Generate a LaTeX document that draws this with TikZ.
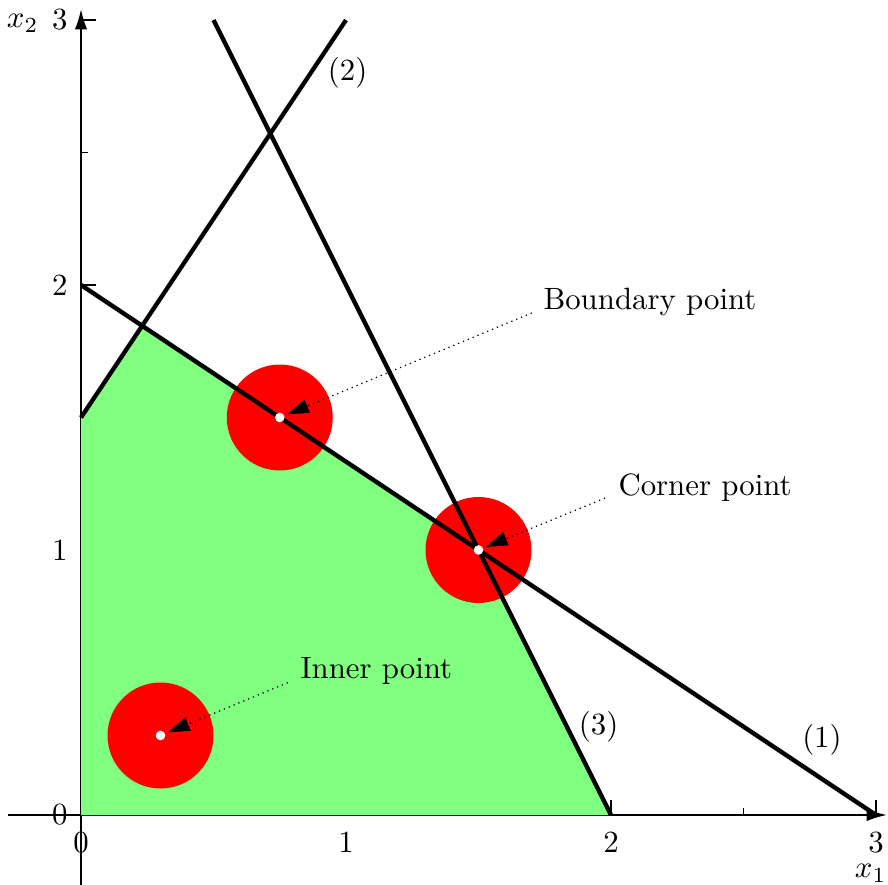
\documentclass[tikz,border=0pt]{standalone}
\usetikzlibrary{arrows.meta}
\begin{document}
\begin{tikzpicture}[x=86pt,y=86pt,
  axisline/.style={line width=0.4pt, -{Latex[length=6.5pt,width=4pt]}},
  tickline/.style={line width=0.4pt},
  constraint/.style={line width=1.4pt},
  region/.style={fill=green!50},
  zone/.style={circle, fill=red, minimum size=34.4pt, inner sep=0pt},
  dotpt/.style={circle, fill=white, minimum size=3.1pt, inner sep=0pt},
  pointer/.style={dash pattern=on 0.4pt off 1.3pt, line width=0.4pt, -{Triangle[length=7pt,width=4.6pt]}, shorten >=0.9pt},
  lbl/.style={anchor=base west, inner sep=0pt},
  ticklbl/.style={inner sep=0pt},
]
\useasboundingbox (-0.3057,-0.2604) rectangle (3.0453,3.0755);
% axes
\coordinate (xs) at (-0.2755,0);
\coordinate (xe) at (3.04,0);
\coordinate (ys) at (0,-0.27);
\coordinate (ye) at (0,3.04);
\draw[axisline] (xs) -- (xe);
\draw[axisline] (ys) -- (ye);
% ticks
\foreach \v in {0.5,1.5,2.5} {
  \draw[tickline] (\v,0) -- ++(0,2.4pt);
  \draw[tickline] (0,\v) -- ++(2.4pt,0);
}
\foreach \v in {1,2,3} {
  \draw[tickline] (\v,0) -- ++(0,4.9pt);
  \draw[tickline] (0,\v) -- ++(4.9pt,0);
}
% tick labels
\foreach \v in {0,1,2,3} {
  \node[ticklbl, anchor=north] (xl\v) at (\v,-0.06) {\v};
  \node[ticklbl, anchor=east] (yl\v) at (-0.049,\v) {\v};
}
\node[ticklbl, anchor=base east] (xlab) at (3.0415,-0.2377) {$x_1$};
\node[ticklbl, anchor=base east] (ylab) at (-0.1585,2.970) {$x_2$};
% feasible region
\coordinate (o) at (0,0);
\coordinate (a) at (2,0);
\coordinate (b) at (1.5,1);
\coordinate (c) at (0.23077,1.84615);
\coordinate (d) at (0,1.5);
\fill[region] (o) -- (a) -- (b) -- (c) -- (d) -- cycle;
% red zones
\node[zone] (zin) at (0.3,0.3) {};
\node[zone] (zbd) at (0.75,1.5) {};
\node[zone] (zco) at (1.5,1) {};
% constraint lines
\coordinate (l1s) at (0,2);
\coordinate (l1e) at (3,0);
\coordinate (l2s) at (0,1.5);
\coordinate (l2e) at (1,3);
\coordinate (l3s) at (0.5,3);
\coordinate (l3e) at (2,0);
\draw[constraint] (l1s) -- (l1e);
\draw[constraint] (l2s) -- (l2e);
\draw[constraint] (l3s) -- (l3e);
\node[ticklbl] (c1) at (2.796,0.283) {(1)};
\node[ticklbl] (c2) at (1.006,2.802) {(2)};
\node[ticklbl] (c3) at (1.953,0.332) {(3)};
% points
\node[dotpt] (pin) at (0.3,0.3) {};
\node[dotpt] (pbd) at (0.75,1.5) {};
\node[dotpt] (pco) at (1.5,1) {};
% labels
\node[lbl] (lin) at (0.826,0.517) {Inner point};
\node[lbl] (lbd) at (1.743,1.906) {Boundary point};
\node[lbl] (lco) at (2.026,1.2075) {Corner point};
\draw[pointer] ([shift={(-3.9pt,-1.5pt)}]lin.base west) -- (pin);
\draw[pointer] ([shift={(-3.6pt,-1.0pt)}]lbd.base west) -- (pbd);
\draw[pointer] ([shift={(-4.2pt,-1.0pt)}]lco.base west) -- (pco);
\end{tikzpicture}
\end{document}
